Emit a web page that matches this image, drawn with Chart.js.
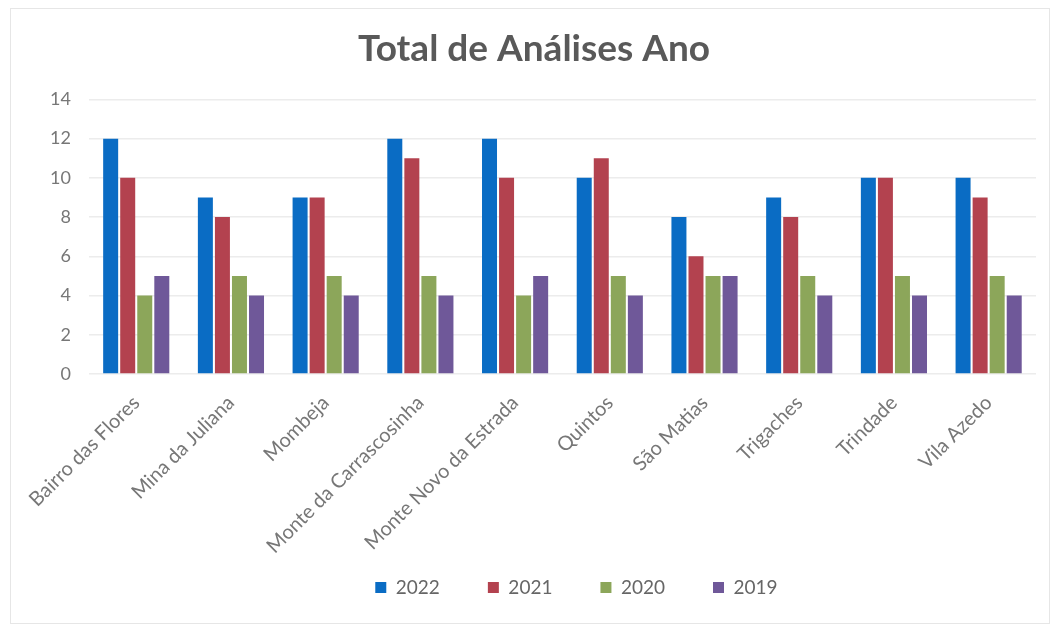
<!DOCTYPE html>
<html>
<head>
<meta charset="utf-8">
<script src="https://cdn.jsdelivr.net/npm/chart.js@4"></script>
<style>
html,body{margin:0;padding:0;background:#fff;}
#wrap{position:absolute;left:0;top:0;width:1056px;height:625px;}
#frame{position:absolute;left:10px;top:8px;width:1040px;height:616px;border:1px solid #e6e6e6;box-sizing:border-box;}
</style>
</head>
<body>
<div id="frame"></div>
<div id="wrap"><canvas id="c" width="1056" height="625"></canvas></div>
<script>
const categories = ["Bairro das Flores","Mina da Juliana","Mombeja","Monte da Carrascosinha","Monte Novo da Estrada","Quintos","São Matias","Trigaches","Trindade","Vila Azedo"];
const seriesNames = ["2022","2021","2020","2019"];
const v2022 = [12,9,9,12,12,10,8,9,10,10];
const v2021 = [10,8,9,11,10,11,6,8,10,9];
const v2020 = [4,5,5,5,4,5,5,5,5,5];
const v2019 = [5,4,4,4,5,4,5,4,4,4];
const colors = ["#0A6CC4","#B3424F","#8CA65A","#6F5899"];
const allValues = [v2022,v2021,v2020,v2019];

const FONT = "Lato, 'Open Sans', sans-serif";
const legendShift = {
  id: 'legendShift',
  afterLayout(chart) {
    if (chart.legend) { chart.legend.left += 14; chart.legend.right += 14; }
  }
};
new Chart(document.getElementById('c'), {
  type: 'bar',
  plugins: [legendShift],
  data: {
    labels: categories,
    datasets: seriesNames.map((n,i)=>({
      label: n,
      data: allValues[i],
      backgroundColor: colors[i],
      borderWidth: 0,
      barPercentage: 0.88,
      categoryPercentage: 0.72
    }))
  },
  options: {
    responsive: false,
    animation: false,
    layout: {padding: {left: 32, right: 20, top: 20, bottom: 18}},
    plugins: {
      title: {
        display: true,
        text: "Total de Análises Ano",
        color: "#595959",
        font: {family: FONT, size: 37, weight: 'bold'},
        padding: {top: 7, bottom: 28}
      },
      legend: {
        position: 'bottom',
        fullSize: false,
        labels: {
          color: "#666",
          font: {family: FONT, size: 19},
          boxWidth: 11, boxHeight: 11,
          padding: 48
        }
      },
      tooltip: {enabled: false}
    },
    scales: {
      x: {
        grid: {display: false},
        border: {display: false},
        afterFit: (scale) => {
          scale.height = 156;
          scale._computeLabelArea = () => undefined;
        },
        ticks: {
          color: "#777",
          font: {family: FONT, size: 20},
          minRotation: 45, maxRotation: 45,
          padding: 9
        }
      },
      y: {
        min: 0, max: 14,
        ticks: {stepSize: 2, color: "#777", font: {family: FONT, size: 18}, padding: 18},
        grid: {color: "#ececec", lineWidth: 1.5, drawTicks: false},
        border: {display: false}
      }
    }
  }
});
</script>
</body>
</html>
